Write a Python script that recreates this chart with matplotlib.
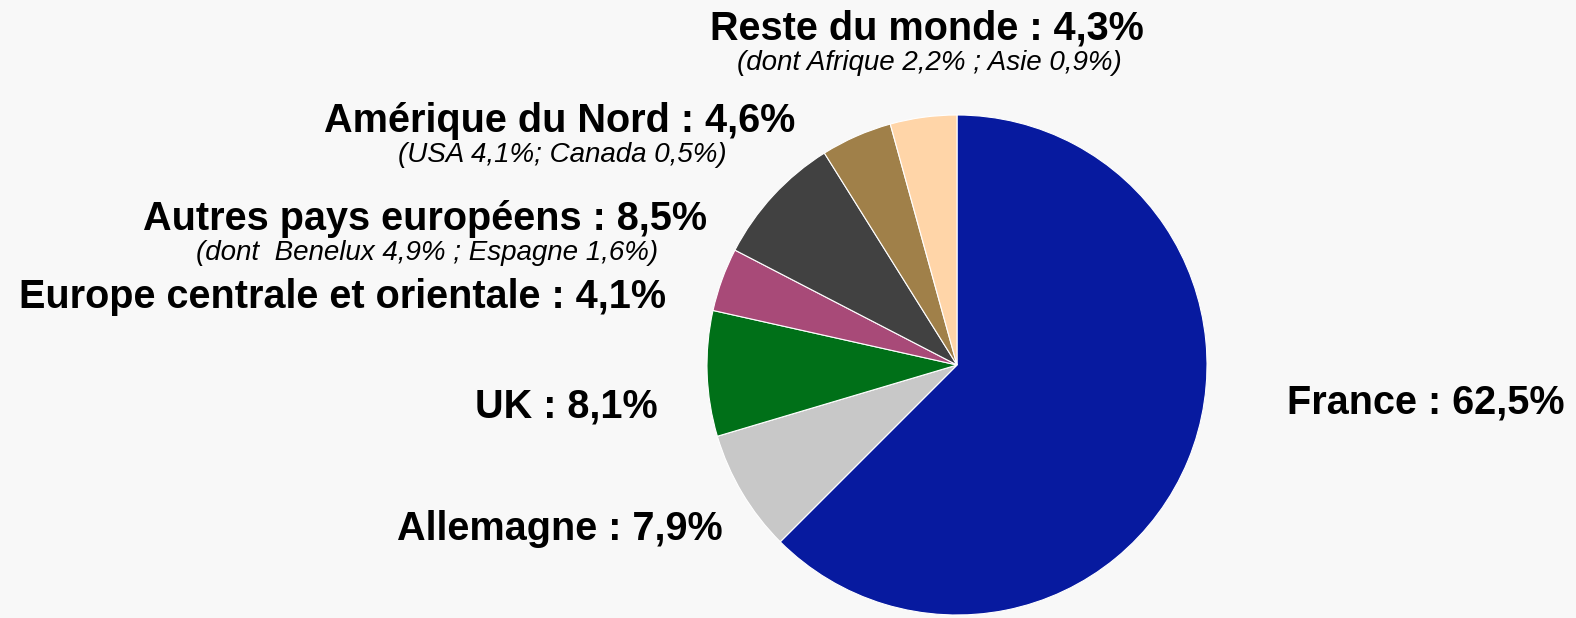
import matplotlib.pyplot as plt

# répartition du chiffre d'affaires par zone géographique (%)
zones = ['France', 'Allemagne', 'UK', 'Europe centrale et orientale',
         'Autres pays européens', 'Amérique du Nord', 'Reste du monde']
parts = [62.5, 7.9, 8.1, 4.1, 8.5, 4.6, 4.3]
details = ['', '', '', '', '(dont  Benelux 4,9% ; Espagne 1,6%)',
           '(USA 4,1%; Canada 0,5%)', '(dont Afrique 2,2% ; Asie 0,9%)']
colors = ['#071a9f', '#c8c8c8', '#007018', '#a84a78',
          '#414141', '#a08049', '#ffd5a8']

# label placement in pixels (x centre, baseline from top)
label_pos = [(1426, 413), (560, 540), (566, 418), (343, 308),
             (425, 230), (560, 132), (927, 40)]

W, H = 1576, 618
BG = '#f8f8f8'


def fmt(v):
    return f'{v:.1f}'.replace('.', ',') + '%'


fig = plt.figure(figsize=(W / 100, H / 100), dpi=100, facecolor=BG)
ax = fig.add_axes([0, 0, 1, 1])
ax.set_facecolor(BG)

ax.pie(parts, colors=colors, startangle=90, counterclock=False,
       center=(957, H - 365), radius=250, frame=True,
       wedgeprops=dict(edgecolor='white', linewidth=0.8))
ax.set_xlim(0, W)
ax.set_ylim(0, H)
ax.axis('off')

font = ['Liberation Sans', 'DejaVu Sans']
for zone, part, detail, (x, y) in zip(zones, parts, details, label_pos):
    ax.text(x, H - y, f'{zone} : {fmt(part)}', ha='center', va='baseline',
            fontsize=28.5, fontweight='bold', family=font)
    if detail:
        ax.text(x + 2, H - y - 30, detail, ha='center', va='baseline',
                fontsize=20, style='italic', family=font)

fig.savefig('out.png', dpi=100, facecolor=BG)
